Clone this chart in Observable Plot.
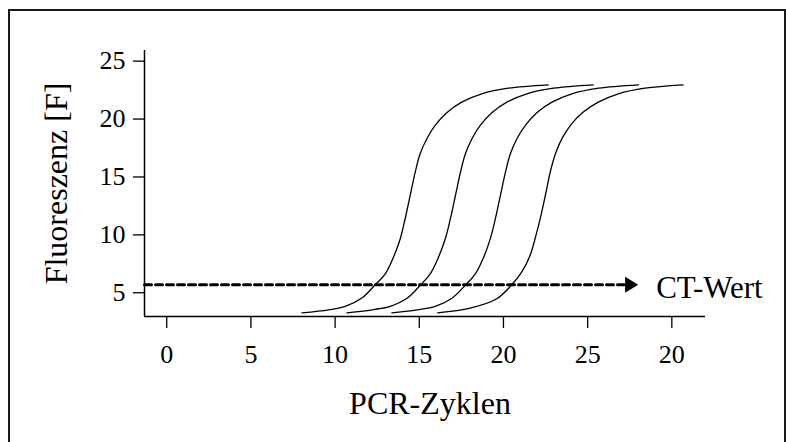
<!DOCTYPE html>
<html>
<head>
<meta charset="utf-8">
<script src="https://cdn.jsdelivr.net/npm/d3@7"></script>
<script src="https://cdn.jsdelivr.net/npm/@observablehq/plot@0.6"></script>
<style>
  html, body { margin: 0; padding: 0; background: #fff; }
  body { position: relative; width: 786px; height: 442px; overflow: hidden; }
  #box {
    position: absolute; left: 8px; top: 9px; width: 778px; height: 480px;
    box-sizing: border-box; border: 2px solid #1a1a1a; border-bottom: none;
  }
  #chart { position: absolute; left: 0; top: 0; }
  #chart svg { background: transparent; }
</style>
</head>
<body>
<div id="box"></div>
<div id="chart"></div>
<script>
// Amplification curves: PCR cycle (x) vs. fluorescence (y), four dilutions
const cycles1 = [8.03, 9.62, 10.60, 11.59, 12.38, 12.98, 13.47, 13.87, 14.16, 14.46, 14.76, 15.05, 15.45, 15.94, 16.63, 17.52, 18.71, 20.29, 22.66];
const fluor1  = [3.27, 3.53, 3.82, 4.54, 5.69, 6.64, 8.08, 9.66, 11.39, 13.40, 15.42, 17.00, 18.30, 19.45, 20.54, 21.46, 22.18, 22.67, 22.96];

const cycles2 = [10.70, 12.30, 13.28, 14.27, 15.08, 15.66, 16.15, 16.55, 16.85, 17.15, 17.45, 17.74, 18.13, 18.62, 19.31, 20.20, 21.39, 22.97, 25.33];
const fluor2  = [3.27, 3.55, 3.83, 4.52, 5.69, 6.66, 8.10, 9.68, 11.40, 13.42, 15.43, 17.00, 18.30, 19.45, 20.54, 21.46, 22.18, 22.67, 22.96];

const cycles3 = [13.37, 14.97, 15.95, 16.94, 17.76, 18.34, 18.83, 19.22, 19.52, 19.82, 20.12, 20.41, 20.80, 21.30, 21.98, 22.88, 24.06, 25.65, 28.03];
const fluor3  = [3.27, 3.54, 3.82, 4.53, 5.69, 6.65, 8.09, 9.67, 11.40, 13.41, 15.42, 17.00, 18.30, 19.45, 20.54, 21.46, 22.18, 22.67, 22.96];

const cycles4 = [16.09, 18.02, 19.60, 20.49, 21.08, 21.58, 21.93, 22.23, 22.53, 22.80, 23.12, 23.52, 24.05, 24.74, 25.63, 26.82, 28.40, 30.67];
const fluor4  = [3.27, 3.67, 4.48, 5.69, 6.78, 8.22, 9.95, 11.68, 13.69, 15.56, 17.14, 18.44, 19.59, 20.60, 21.46, 22.18, 22.67, 22.96];

// Threshold line (CT value) and its arrow
const ctLevel = 5.7;
const ctLineX = [-1.32, 27.3];
const ctArrowTip = 28;
const ctLabel = "CT-Wert";

// Axes
const xTicks = [0, 5, 10, 15, 20, 25, 30];
const xTickLabels = ["0", "5", "10", "15", "20", "25", "20"];
const yTicks = [5, 10, 15, 20, 25];
const xDomain = [-1.32, 32];
const yDomain = [2.95, 25.92];
const xTitle = "PCR-Zyklen";
const yTitle = "Fluoreszenz [F]";

const curves = [
  [cycles1, fluor1], [cycles2, fluor2], [cycles3, fluor3], [cycles4, fluor4]
].flatMap(([xs, ys], k) => xs.map((x, i) => ({run: k, x, y: ys[i]})));

// Filled arrowhead whose tip sits on the anchor point
const arrowHead = {
  draw(ctx) {
    ctx.moveTo(0, 0);
    ctx.lineTo(-13, -8);
    ctx.lineTo(-13, 8);
    ctx.closePath();
  }
};

const serif = "'Liberation Serif', 'Times New Roman', serif";

const chart = Plot.plot({
  width: 786,
  height: 442,
  marginLeft: 144,
  marginRight: 81,
  marginTop: 50,
  marginBottom: 126,
  style: {fontFamily: serif, color: "#000", background: "transparent"},
  x: {domain: xDomain},
  y: {domain: yDomain},
  marks: [
    Plot.line(curves, {x: "x", y: "y", z: "run", stroke: "#000", strokeWidth: 1.3, curve: "catmull-rom"}),
    Plot.line(ctLineX.map(x => ({x, y: ctLevel})), {x: "x", y: "y", stroke: "#000", strokeWidth: 3, strokeDasharray: "7,4"}),
    Plot.dot([{x: ctArrowTip, y: ctLevel}], {x: "x", y: "y", symbol: arrowHead, fill: "#000", stroke: "none"}),
    Plot.text([{x: ctArrowTip, y: ctLevel}], {x: "x", y: "y", text: () => ctLabel, textAnchor: "start", lineAnchor: "bottom", dx: 18, dy: 13, fontSize: 31, fill: "#000"}),
    Plot.axisX({ticks: xTicks, tickFormat: (d, i) => xTickLabels[i], tickSize: 12, tickPadding: 16, fontSize: 26, label: null, strokeWidth: 1.3}),
    Plot.axisY({ticks: yTicks, tickSize: 11, tickPadding: 8, fontSize: 26, label: null, strokeWidth: 1.3}),
    Plot.ruleX([xDomain[0]], {stroke: "#000", strokeWidth: 1.5}),
    Plot.ruleY([yDomain[0]], {stroke: "#000", strokeWidth: 1.5}),
    Plot.text([xTitle], {frameAnchor: "bottom", lineAnchor: "bottom", dx: 5, dy: 97, fontSize: 32, fill: "#000"}),
    Plot.text([yTitle], {frameAnchor: "left", textAnchor: "middle", lineAnchor: "middle", rotate: -90, dx: -88, fontSize: 32, fill: "#000"})
  ]
});

document.getElementById("chart").appendChild(chart);
</script>
</body>
</html>
